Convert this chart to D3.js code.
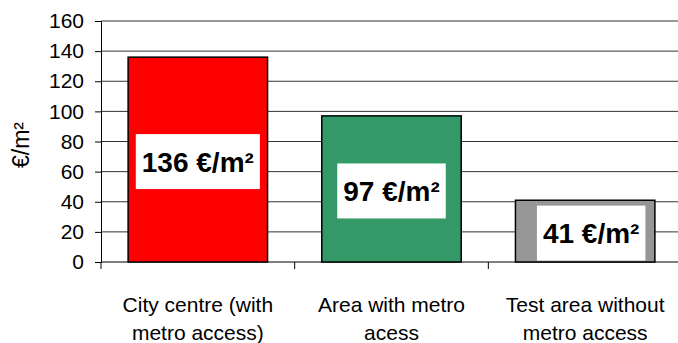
<!DOCTYPE html>
<html>
<head>
<meta charset="utf-8">
<script src="https://cdn.jsdelivr.net/npm/d3@7"></script>
<style>
  html, body { margin: 0; padding: 0; background: #fff; }
  svg { display: block; font-family: "Liberation Sans", Arial, sans-serif; }
</style>
</head>
<body>
<svg id="chart" width="678" height="343"></svg>
<script>
// Average price per square metre by area type
const categories = [
  ["City centre (with", "metro access)"],
  ["Area with metro", "acess"],
  ["Test area without", "metro access"]
];
const values = [136, 97, 41];
const valueLabels = ["136 €/m²", "97 €/m²", "41 €/m²"];
const barColors = ["#ff0000", "#339966", "#969696"];
const yTicks = [0, 20, 40, 60, 80, 100, 120, 140, 160];
const yTitle = "€/m²";

const svg = d3.select("#chart");
const W = 678;
const plotLeft = 101, plotRight = 682, plotTop = 21, plotBottom = 262;

const x = d3.scaleBand()
  .domain(d3.range(values.length))
  .range([plotLeft, plotRight])
  .paddingInner(0.28)
  .paddingOuter(0.14);

const y = d3.scaleLinear().domain([0, 160]).range([plotBottom, plotTop]);

// horizontal gridlines
svg.append("g")
  .selectAll("line")
  .data(yTicks.filter(d => d > 0))
  .join("line")
  .attr("x1", plotLeft).attr("x2", W)
  .attr("y1", d => y(d)).attr("y2", d => y(d))
  .attr("stroke", "#333").attr("stroke-width", 1);

// y axis
const yAxis = d3.axisLeft(y).tickValues(yTicks).tickSize(6).tickPadding(11);
const gy = svg.append("g").attr("transform", `translate(${plotLeft},0)`).call(yAxis);
gy.select(".domain").attr("stroke", "#000");
gy.selectAll(".tick line").attr("stroke", "#000");
gy.selectAll(".tick text")
  .attr("font-family", "'Liberation Sans', Arial, sans-serif")
  .attr("font-size", 21).attr("fill", "#000");

// x axis baseline with ticks between the category bands
const bandStep = x.step();
svg.append("line")
  .attr("x1", plotLeft).attr("x2", W).attr("y1", plotBottom).attr("y2", plotBottom)
  .attr("stroke", "#000");
svg.append("g").selectAll("line")
  .data(d3.range(values.length).map(i => i === 0 ? plotLeft : x(i) - bandStep * x.paddingInner() / 2))
  .join("line")
  .attr("x1", d => d).attr("x2", d => d)
  .attr("y1", plotBottom).attr("y2", plotBottom + 7)
  .attr("stroke", "#000");

// bars
svg.append("g").selectAll("rect")
  .data(values)
  .join("rect")
  .attr("x", (d, i) => x(i))
  .attr("y", d => y(d))
  .attr("width", x.bandwidth())
  .attr("height", d => y(0) - y(d))
  .attr("fill", (d, i) => barColors[i])
  .attr("stroke", "#000").attr("stroke-width", 1.5);

// value labels in white boxes at the bar middles (the short last bar's box sits a little right)
const lab = svg.append("g").selectAll("g")
  .data(values)
  .join("g")
  .attr("transform", (d, i) => {
    const cx = x(i) + x.bandwidth() / 2 + (i === values.length - 1 ? 6 : 0);
    return `translate(${cx},${(y(d) + y(0)) / 2 + 2})`;
  });
lab.append("rect").attr("fill", "#fff");
lab.append("text")
  .attr("text-anchor", "middle")
  .attr("dy", "0.36em")
  .attr("font-size", 28)
  .attr("font-weight", "bold")
  .attr("fill", "#000")
  .text((d, i) => valueLabels[i]);
lab.each(function () {
  const g = d3.select(this);
  const bb = g.select("text").node().getBBox();
  g.select("rect")
    .attr("x", bb.x - 6).attr("width", bb.width + 12)
    .attr("y", -27.5).attr("height", 55);
});

// category labels
const cat = svg.append("g").selectAll("text")
  .data(categories)
  .join("text")
  .attr("x", (d, i) => x(i) + x.bandwidth() / 2)
  .attr("y", 312)
  .attr("text-anchor", "middle")
  .attr("font-size", 21)
  .attr("fill", "#000");
cat.selectAll("tspan")
  .data(d => d)
  .join("tspan")
  .attr("x", function () { return this.parentNode.getAttribute("x"); })
  .attr("dy", (d, j) => j === 0 ? 0 : 27.7)
  .text(d => d);

// y axis title
svg.append("text")
  .attr("transform", "translate(29,145) rotate(-90)")
  .attr("text-anchor", "middle")
  .attr("font-size", 23)
  .attr("fill", "#000")
  .text(yTitle);
</script>
</body>
</html>
